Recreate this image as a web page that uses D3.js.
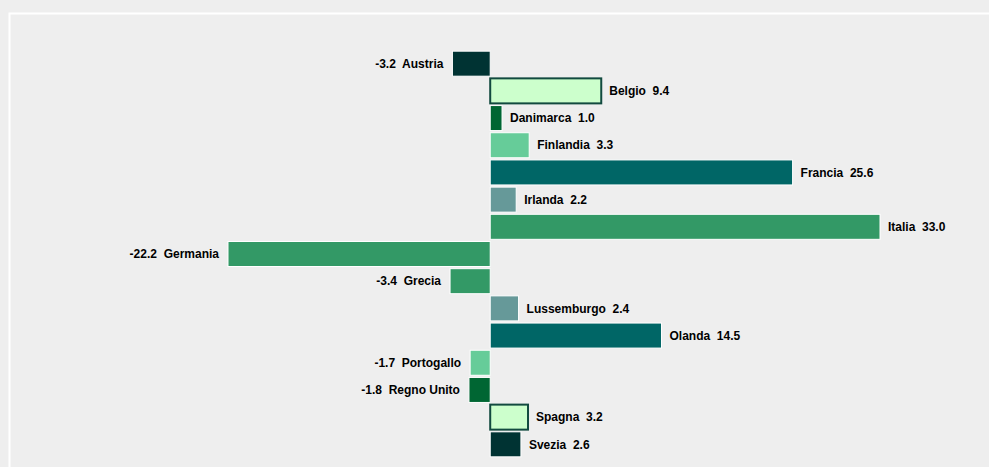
<!DOCTYPE html>
<html lang="en">
<head>
    <meta charset="UTF-8">
    <title>Bar chart</title>
    <script src="https://d3js.org/d3.v7.min.js"></script>
    <style>
        body{ margin:0; background:#eeeeee; }
        .labels{
            fill:#000;
            font-size:12px;
            font-weight:bold;
            font-family:"Liberation Sans", Arial, sans-serif;
            white-space:pre;
        }
    </style>
</head>
<body>
<svg id="main" width="989" height="467"></svg>
<script>
    let countries = ['Austria','Belgio','Danimarca','Finlandia','Francia','Irlanda','Italia',
        'Germania','Grecia','Lussemburgo','Olanda','Portogallo','Regno Unito','Spagna','Svezia'];
    let values = [-3.2, 9.4, 1.0, 3.3, 25.6, 2.2, 33.0, -22.2, -3.4, 2.4, 14.5, -1.7, -1.8, 3.2, 2.6];
    let barColors = ['#003333','#ccffcc','#006633','#66cc99','#006666','#669999','#339966',
        '#339966','#339966','#669999','#006666','#66cc99','#006633','#ccffcc','#003333'];

    let svg = d3.select('svg#main');
    let data = countries.map(function(c, i){ return {name:c, value:values[i], color:barColors[i]}; });

    // frame
    svg.append('rect').attr('width', 989).attr('height', 467).attr('fill', '#eeeeee');
    svg.append('path').attr('d', 'M9.5,470 V13.5 H995')
        .attr('fill', 'none').attr('stroke', '#ffffff').attr('stroke-width', 2);

    let xScale = d3.scaleLinear().domain([-22.2, 33]).range([228, 880]);
    let yScale = d3.scaleBand().domain(countries).range([49, 459]).padding(0.08);

    svg.selectAll('rect.bar')
        .data(data)
        .enter()
        .append('rect')
        .attr('class', 'bar')
        .attr('x', function(d){ return xScale(Math.min(0, d.value)); })
        .attr('y', function(d){ return yScale(d.name); })
        .attr('width', function(d){ return Math.abs(xScale(d.value) - xScale(0)); })
        .attr('height', yScale.bandwidth())
        .attr('fill', function(d){ return d.color; })
        .attr('stroke', function(d){ return d.color === '#ccffcc' ? '#124a3f' : '#ffffff'; })
        .attr('stroke-width', function(d){ return d.color === '#ccffcc' ? 2 : 1; });

    svg.selectAll('text.labels')
        .data(data)
        .enter()
        .append('text')
        .attr('class', 'labels')
        .attr('x', function(d){ return d.value >= 0 ? xScale(d.value) + 8 : xScale(d.value) - 9; })
        .attr('y', function(d){ return yScale(d.name) + yScale.bandwidth() / 2; })
        .attr('dy', '0.35em')
        .attr('text-anchor', function(d){ return d.value >= 0 ? 'start' : 'end'; })
        .text(function(d){
            return d.value >= 0 ? d.name + '  ' + d.value.toFixed(1) : d.value.toFixed(1) + '  ' + d.name;
        });
</script>
</body>
</html>
